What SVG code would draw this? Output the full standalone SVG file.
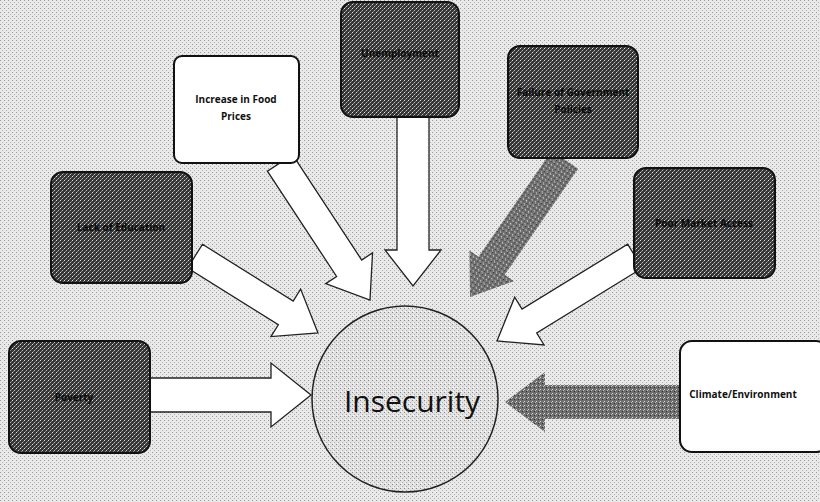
<svg xmlns="http://www.w3.org/2000/svg" width="820" height="502" viewBox="0 0 820 502">
<defs>
<pattern id="bg" width="4" height="4" patternUnits="userSpaceOnUse">
<rect width="4" height="4" fill="#e9e9e9"/>
<rect x="0" y="0" width="1" height="1" fill="#9a9a9a"/>
<rect x="2" y="2" width="1" height="1" fill="#b5b5b5"/>
</pattern>
<pattern id="dark" width="4" height="4" patternUnits="userSpaceOnUse">
<rect width="4" height="4" fill="#353535"/>
<rect x="0" y="0" width="1" height="1" fill="#e0e0e0"/>
<rect x="2" y="2" width="1" height="1" fill="#c0c0c0"/>
<rect x="1" y="3" width="1" height="1" fill="#888"/>
<rect x="3" y="1" width="1" height="1" fill="#777"/>
</pattern>
<pattern id="mid" width="4" height="4" patternUnits="userSpaceOnUse">
<rect width="4" height="4" fill="#6e6e6e"/>
<rect x="0" y="0" width="1" height="1" fill="#d8d8d8"/>
<rect x="2" y="2" width="1" height="1" fill="#333"/>
<rect x="1" y="3" width="1" height="1" fill="#bbb"/>
</pattern>
<pattern id="light" width="4" height="4" patternUnits="userSpaceOnUse">
<rect width="4" height="4" fill="#e2e2e2"/>
<rect x="0" y="0" width="1" height="1" fill="#888"/>
<rect x="2" y="2" width="1" height="1" fill="#aaa"/>
<rect x="1" y="3" width="1" height="1" fill="#fff"/>
</pattern>
</defs>
<style>
.dbox{fill:url(#dark);stroke:#111;stroke-width:2}
.wbox{fill:#ffffff;stroke:#111;stroke-width:2}
.warr{fill:#ffffff;stroke:#222;stroke-width:1.3;stroke-linejoin:miter}
.garr{fill:url(#mid);stroke:none}
.lbl{font-family:"Open Sans","Liberation Sans",sans-serif;font-size:10px;font-weight:bold;fill:#111;text-anchor:middle}
.dl{font-family:"Open Sans","Liberation Sans",sans-serif;font-size:10px;font-weight:bold;fill:#0a0a0a;text-anchor:middle}
</style>
<rect width="820" height="502" fill="url(#bg)"/>

<g id="connectors">
<polygon class="warr" transform="translate(311,395) rotate(0)" points="-162,-17 -40,-17 -40,-32 0,0 -40,32 -40,17 -162,17"/>
<polygon class="warr" transform="translate(318,333) rotate(32)" points="-145,-14 -38,-14 -38,-28 0,0 -38,28 -38,14 -145,14"/>
<polygon class="warr" transform="translate(370,300) rotate(56.7)" points="-164,-15 -38,-15 -38,-28 0,0 -38,28 -38,15 -164,15"/>
<polygon class="warr" transform="translate(413,286) rotate(90)" points="-169,-16 -36,-16 -36,-28 0,0 -36,28 -36,16 -169,16"/>
<polygon class="garr" transform="translate(470,297) rotate(124.7)" points="-167,-16 -38,-16 -38,-27 0,0 -38,27 -38,16 -167,16"/>
<polygon class="warr" transform="translate(497,341) rotate(148.4)" points="-162,-14 -38,-14 -38,-28 0,0 -38,28 -38,14 -162,14"/>
<polygon class="garr" transform="translate(505,402) rotate(180)" points="-174,-17 -40,-17 -40,-30 0,0 -40,30 -40,17 -174,17"/>
</g>

<g id="insecurity">
<circle cx="405" cy="399" r="93" fill="url(#light)" stroke="#222" stroke-width="1.5"/>
<text x="412" y="412" font-family="'Open Sans','Liberation Sans',sans-serif" font-size="30" fill="#111" text-anchor="middle">Insecurity</text>
</g>

<g id="poverty">
<rect class="dbox" x="9" y="341" width="141" height="112" rx="12"/>
<text class="dl" x="74" y="401">Poverty</text>
</g>

<g id="education">
<rect class="dbox" x="51" y="172" width="141" height="111" rx="12"/>
<text class="dl" x="121" y="231">Lack of Education</text>
</g>

<g id="food">
<rect class="wbox" x="174" y="56" width="125" height="107" rx="8"/>
<text class="lbl" x="236" y="103">Increase in Food</text>
<text class="lbl" x="236" y="120">Prices</text>
</g>

<g id="unemployment">
<rect class="dbox" x="341" y="2" width="118" height="115" rx="12"/>
<text class="dl" x="400" y="57">Unemployment</text>
</g>

<g id="government">
<rect class="dbox" x="508" y="46" width="130" height="112" rx="12"/>
<text class="dl" x="573" y="96">Failure of Government</text>
<text class="dl" x="573" y="113">Policies</text>
</g>

<g id="market">
<rect class="dbox" x="634" y="168" width="141" height="110" rx="12"/>
<text class="dl" x="704" y="227">Poor Market Access</text>
</g>

<g id="climate">
<rect class="wbox" x="680" y="341" width="148" height="111" rx="12"/>
<text class="lbl" x="743" y="398">Climate/Environment</text>
</g>
</svg>
